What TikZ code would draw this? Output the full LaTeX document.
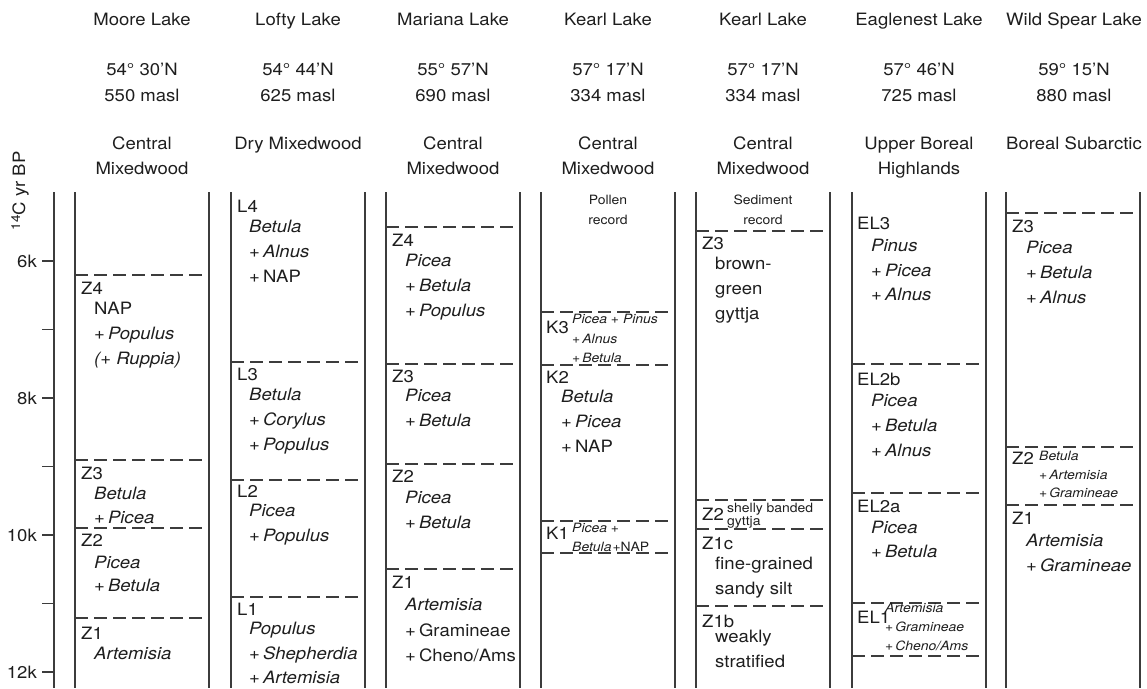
\documentclass[tikz,border=0pt]{standalone}
\usepackage{fontspec}
\setmainfont{TeX Gyre Heros}[FakeStretch=1.09]
\definecolor{ink}{HTML}{1E1E1E}
\definecolor{rulec}{HTML}{3C3C3C}
\newcommand\pp{+\kern3pt}
\newcommand\colbox[1]{\draw[colline] (#1,192) -- (#1,688); \draw[colline] ({#1+134},192) -- ({#1+134},688);}
\newcommand\zline[2]{\draw[zoneline] (#1,#2) -- ({#1+134},#2);}
\begin{document}
\begin{tikzpicture}[x=1pt,y=-1pt,
  every node/.style={inner sep=0pt,text=ink},
  hd/.style={font=\fontsize{17}{20}\selectfont,anchor=center,text height=12.2pt,text depth=0pt},
  lbl/.style={font=\fontsize{17}{20}\selectfont,anchor=west,text height=12.2pt,text depth=0pt},
  sm/.style={font=\fontsize{12.8}{15}\selectfont,anchor=west,text height=9.2pt,text depth=0pt},
  smc/.style={font=\fontsize{12.8}{15}\selectfont,anchor=center,text height=9.2pt,text depth=0pt},
  tk/.style={font=\fontsize{17}{20}\selectfont,anchor=east,text height=12.2pt,text depth=0pt},
  colline/.style={draw=rulec,line width=1.15pt},
  zoneline/.style={draw=rulec,line width=1.15pt,dash pattern=on 13pt off 6pt},
]
\useasboundingbox (0,0) rectangle (1147,688);

% ---------- headers ----------
\node[hd] (h1a) at (142,19) {Moore Lake};
\node[hd] (h2a) at (298,19) {Lofty Lake};
\node[hd] (h3a) at (453,19) {Mariana Lake};
\node[hd] (h4a) at (608,19) {Kearl Lake};
\node[hd] (h5a) at (763,19) {Kearl Lake};
\node[hd] (h6a) at (919,19) {Eaglenest Lake};
\node[hd] (h7a) at (1074,19) {Wild Spear Lake};

\node[hd] (h1b) at (142,69) {54° 30’N};
\node[hd] (h2b) at (298,69) {54° 44’N};
\node[hd] (h3b) at (453,69) {55° 57’N};
\node[hd] (h4b) at (608,69) {57° 17’N};
\node[hd] (h5b) at (763,69) {57° 17’N};
\node[hd] (h6b) at (919,69) {57° 46’N};
\node[hd] (h7b) at (1074,69) {59° 15’N};

\node[hd] (h1c) at (142,95) {550 masl};
\node[hd] (h2c) at (298,95) {625 masl};
\node[hd] (h3c) at (453,95) {690 masl};
\node[hd] (h4c) at (608,95) {334 masl};
\node[hd] (h5c) at (763,95) {334 masl};
\node[hd] (h6c) at (919,95) {725 masl};
\node[hd] (h7c) at (1074,95) {880 masl};

\node[hd] (h1d) at (142,143) {Central};
\node[hd] (h1e) at (142,168) {Mixedwood};
\node[hd] (h2d) at (298,143) {Dry Mixedwood};
\node[hd] (h3d) at (453,143) {Central};
\node[hd] (h3e) at (453,168) {Mixedwood};
\node[hd] (h4d) at (608,143) {Central};
\node[hd] (h4e) at (608,168) {Mixedwood};
\node[hd] (h5d) at (763,143) {Central};
\node[hd] (h5e) at (763,168) {Mixedwood};
\node[hd] (h6d) at (919,143) {Upper Boreal};
\node[hd] (h6e) at (919,168) {Highlands};
\node[hd] (h7d) at (1074,143) {Boreal Subarctic};

% ---------- axis ----------
\node[font=\fontsize{17}{20}\selectfont,rotate=90,anchor=center] (ylab) at (20,191) {{\fontsize{12.5}{14}\selectfont\raisebox{5pt}{14}}C yr BP};
\draw[colline] (54,192) -- (54,688);
\foreach \yy in {261,329.5,398,466.5,535,603.5,672} \draw[colline] (42,\yy) -- (54,\yy);
\node[tk] (t6) at (37,261) {6k};
\node[tk] (t8) at (37,398) {8k};
\node[tk] (t10) at (37,535) {10k};
\node[tk] (t12) at (37,672) {12k};

% ---------- column boxes ----------
\colbox{75}
\colbox{231}
\colbox{386}
\colbox{541}
\colbox{696}
\colbox{852}
\colbox{1006}

% ---------- Moore Lake ----------
\zline{75}{275}
\node[lbl] (m4) at (81,288) {Z4};
\node[lbl] (m4a) at (94,308) {NAP};
\node[lbl] (m4b) at (94,333) {\pp\textit{Populus}};
\node[lbl] (m4c) at (94,358) {\textit{(+ Ruppia)}};
\zline{75}{460}
\node[lbl] (m3) at (81,473) {Z3};
\node[lbl] (m3a) at (94,493) {\textit{Betula}};
\node[lbl] (m3b) at (94,517) {\pp\textit{Picea}};
\zline{75}{528}
\node[lbl] (m2) at (81,540) {Z2};
\node[lbl] (m2a) at (94,562) {\textit{Picea}};
\node[lbl] (m2b) at (94,585) {\pp\textit{Betula}};
\zline{75}{618}
\node[lbl] (m1) at (81,633) {Z1};
\node[lbl] (m1a) at (94,653) {\textit{Artemisia}};

% ---------- Lofty Lake ----------
\node[lbl] (l4) at (237,206) {L4};
\node[lbl] (l4a) at (249,226) {\textit{Betula}};
\node[lbl] (l4b) at (249,251) {\pp\textit{Alnus}};
\node[lbl] (l4c) at (249,276) {\pp NAP};
\zline{231}{362}
\node[lbl] (l3) at (237,374) {L3};
\node[lbl] (l3a) at (249,394) {\textit{Betula}};
\node[lbl] (l3b) at (249,419) {\pp\textit{Corylus}};
\node[lbl] (l3c) at (249,444) {\pp\textit{Populus}};
\zline{231}{480}
\node[lbl] (l2) at (237,491) {L2};
\node[lbl] (l2a) at (249,510) {\textit{Picea}};
\node[lbl] (l2b) at (249,535) {\pp\textit{Populus}};
\zline{231}{597}
\node[lbl] (l1) at (237,609) {L1};
\node[lbl] (l1a) at (249,628) {\textit{Populus}};
\node[lbl] (l1b) at (249,653) {\pp\textit{Shepherdia}};
\node[lbl] (l1c) at (249,677) {\pp\textit{Artemisia}};

% ---------- Mariana Lake ----------
\zline{386}{227}
\node[lbl] (n4) at (392,240) {Z4};
\node[lbl] (n4a) at (405,260) {\textit{Picea}};
\node[lbl] (n4b) at (405,285) {\pp\textit{Betula}};
\node[lbl] (n4c) at (405,310) {\pp\textit{Populus}};
\zline{386}{364}
\node[lbl] (n3) at (392,376) {Z3};
\node[lbl] (n3a) at (405,395) {\textit{Picea}};
\node[lbl] (n3b) at (405,420) {\pp\textit{Betula}};
\zline{386}{464}
\node[lbl] (n2) at (392,476) {Z2};
\node[lbl] (n2a) at (405,497) {\textit{Picea}};
\node[lbl] (n2b) at (405,522) {\pp\textit{Betula}};
\zline{386}{569}
\node[lbl] (n1) at (392,582) {Z1};
\node[lbl] (n1a) at (405,604) {\textit{Artemisia}};
\node[lbl] (n1b) at (405,630) {\pp Gramineae};
\node[lbl] (n1c) at (405,655) {\pp Cheno/Ams};

% ---------- Kearl Lake pollen ----------
\node[smc] (kp1) at (608,200) {Pollen};
\node[smc] (kp2) at (608,220) {record};
\zline{541}{312}
\node[lbl] (k3) at (546,327) {K3};
\node[sm] (k3a) at (572,319) {\textit{Picea} + \textit{Pinus}};
\node[sm] (k3b) at (572,339) {+\kern2pt\textit{Alnus}};
\node[sm] (k3c) at (572,358) {+\kern2pt\textit{Betula}};
\zline{541}{365}
\node[lbl] (k2) at (546,377) {K2};
\node[lbl] (k2a) at (561,396) {\textit{Betula}};
\node[lbl] (k2b) at (561,421) {\pp\textit{Picea}};
\node[lbl] (k2c) at (561,446) {\pp NAP};
\zline{541}{521}
\node[lbl] (k1) at (546,533) {K1};
\node[sm] (k1a) at (572,528) {\textit{Picea} +};
\node[sm] (k1b) at (572,547) {\textit{Betula}\kern1pt+NAP};
\zline{541}{553}

% ---------- Kearl Lake sediment ----------
\node[smc] (ks1) at (763,200) {Sediment};
\node[smc] (ks2) at (763,220) {record};
\zline{696}{231}
\node[lbl] (s3) at (702,243) {Z3};
\node[lbl] (s3a) at (715,263) {brown-};
\node[lbl] (s3b) at (715,288) {green};
\node[lbl] (s3c) at (715,313) {gyttja};
\zline{696}{500}
\node[lbl] (s2) at (702,514) {Z2};
\node[sm] (s2a) at (727,508) {shelly banded};
\node[sm] (s2b) at (727,521) {gyttja};
\zline{696}{529}
\node[lbl] (s1c) at (702,543) {Z1c};
\node[lbl] (s1ca) at (715,563) {fine-grained};
\node[lbl] (s1cb) at (715,588) {sandy silt};
\zline{696}{606}
\node[lbl] (s1b) at (702,621) {Z1b};
\node[lbl] (s1ba) at (715,636) {weakly};
\node[lbl] (s1bb) at (715,661) {stratified};

% ---------- Eaglenest Lake ----------
\node[lbl] (e3) at (857,223) {EL3};
\node[lbl] (e3a) at (871,245) {\textit{Pinus}};
\node[lbl] (e3b) at (871,270) {\pp\textit{Picea}};
\node[lbl] (e3c) at (871,294) {\pp\textit{Alnus}};
\zline{852}{364}
\node[lbl] (e2b) at (857,379) {EL2b};
\node[lbl] (e2ba) at (871,400) {\textit{Picea}};
\node[lbl] (e2bb) at (871,425) {\pp\textit{Betula}};
\node[lbl] (e2bc) at (871,450) {\pp\textit{Alnus}};
\zline{852}{493}
\node[lbl] (e2a) at (857,506) {EL2a};
\node[lbl] (e2aa) at (871,527) {\textit{Picea}};
\node[lbl] (e2ab) at (871,551) {\pp\textit{Betula}};
\zline{852}{603}
\node[lbl] (e1) at (857,617) {EL1};
\node[sm] (e1a) at (885,608) {\textit{Artemisia}};
\node[sm] (e1b) at (885,627) {+\kern2pt\textit{Gramineae}};
\node[sm] (e1c) at (885,646) {+\kern2pt\textit{Cheno/Ams}};
\zline{852}{656}

% ---------- Wild Spear Lake ----------
\zline{1006}{213}
\node[lbl] (w3) at (1012,226) {Z3};
\node[lbl] (w3a) at (1026,247) {\textit{Picea}};
\node[lbl] (w3b) at (1026,272) {\pp\textit{Betula}};
\node[lbl] (w3c) at (1026,297) {\pp\textit{Alnus}};
\zline{1006}{447}
\node[lbl] (w2) at (1012,458) {Z2};
\node[sm] (w2a) at (1039,456) {\textit{Betula}};
\node[sm] (w2b) at (1039,475) {+\kern2pt\textit{Artemisia}};
\node[sm] (w2c) at (1039,493) {+\kern2pt\textit{Gramineae}};
\zline{1006}{505}
\node[lbl] (w1) at (1012,518) {Z1};
\node[lbl] (w1a) at (1026,540) {\textit{Artemisia}};
\node[lbl] (w1b) at (1026,565) {\pp\textit{Gramineae}};
\end{tikzpicture}
\end{document}
